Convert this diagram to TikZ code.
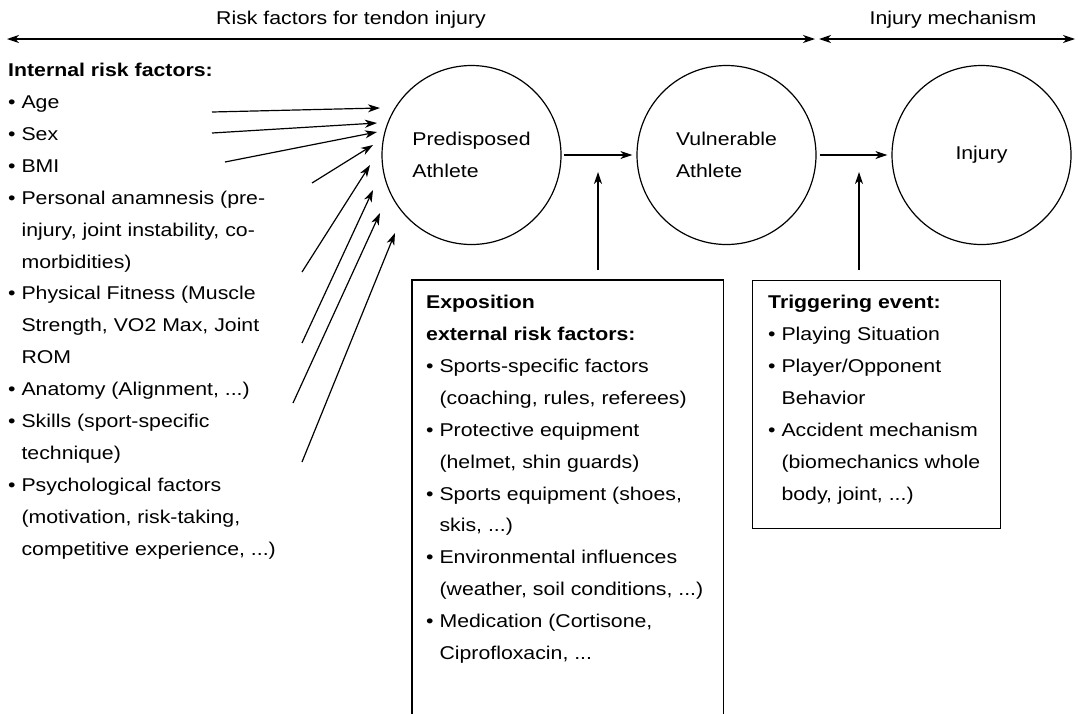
\documentclass[tikz,border=0pt]{standalone}
\usepackage{fontspec}
\setmainfont{Liberation Sans}[FakeStretch=1.15]
\usetikzlibrary{arrows.meta,positioning}

\newcommand{\bul}{\textbullet\ }
\newcommand{\ind}{\phantom{\textbullet\ }}

\tikzset{
  arr/.style={-{Stealth[length=12pt,width=8pt,inset=3.5pt]}, line width=1.2pt},
  span/.style={{Stealth[length=12pt,width=8pt,inset=3.5pt]}-{Stealth[length=12pt,width=8pt,inset=3.5pt]}, line width=1.2pt},
  athlete/.style={draw, circle, minimum size=179pt, inner sep=0pt, align=left, line width=1.2pt},
  frame/.style={line width=1.2pt},
  listtext/.style={anchor=base west, align=left, inner sep=0pt},
}

\begin{document}
\begin{tikzpicture}[x=1pt, y=-1pt, font=\fontsize{18.5}{31.9}\selectfont]
    \useasboundingbox (0,0) rectangle (1078,713);
    % time scale on top
    \coordinate (riskL) at (7,39);
    \coordinate (riskR) at (815,39);
    \coordinate (mechL) at (819,39);
    \coordinate (mechR) at (1075,39);
    \draw[span] (riskL) -- (riskR);
    \draw[span] (mechL) -- (mechR);
    \node[anchor=base, inner sep=0pt] (risk) at (351,24.6) {Risk factors for tendon injury};
    \node[anchor=base, inner sep=0pt] (mech) at (953,24.6) {Injury mechanism};

    % athletes
    \node[athlete] (pre) at (471.5,155) {Predisposed\\Athlete};
    \node[athlete] (vul) at (726.5,155) {Vulnerable\\Athlete};
    \node[athlete] (inj) at (981.5,155) {Injury};
    \draw[arr, shorten <=2pt, shorten >=4pt] (pre) -- (vul);
    \draw[arr, shorten <=3pt, shorten >=4pt] (vul) -- (inj);

    % internal factors (anchored at the baseline of the last line)
    \node[listtext] (internal) at (8,555.1) {\textbf{Internal risk factors:}\\
        \bul Age\\
        \bul Sex\\
        \bul BMI\\
        \bul Personal anamnesis (pre-\\
        \ind injury, joint instability, co-\\
        \ind morbidities)\\
        \bul Physical Fitness (Muscle\\
        \ind Strength, VO2 Max, Joint\\
        \ind ROM\\
        \bul Anatomy (Alignment, ...)\\
        \bul Skills (sport-specific\\
        \ind technique)\\
        \bul Psychological factors\\
        \ind (motivation, risk-taking,\\
        \ind competitive experience, ...)};
    \foreach \sx/\sy/\ex/\ey [count=\i] in {212/112/380/108, 212/133/377/123,
        225/162/377/132, 312/183/373/145, 302/272/370/165, 302/343/373/190,
        293/403/380/213, 302/462/395/233} {
        \coordinate (from\i) at (\sx,\sy);
        \coordinate (to\i) at (\ex,\ey);
        \draw[arr] (from\i) -- (to\i);
    }

    % exposition box (open at the bottom)
    \node[inner sep=0pt, minimum width=311pt, minimum height=440pt, anchor=north west] (expo) at (412,280) {};
    \draw[frame] (expo.south west) -- (expo.north west) -- (expo.north east) -- (expo.south east);
    \node[listtext] (expotext) at (426,659.5) {\textbf{Exposition}\\
        \textbf{external risk factors:}\\
        \bul Sports-specific factors\\
        \ind (coaching, rules, referees)\\
        \bul Protective equipment\\
        \ind (helmet, shin guards)\\
        \bul Sports equipment (shoes,\\
        \ind skis, ...)\\
        \bul Environmental influences\\
        \ind (weather, soil conditions, ...)\\
        \bul Medication (Cortisone,\\
        \ind Ciprofloxacin, ...};
    \coordinate (expoUp) at (598,270);
    \coordinate (expoTip) at (598,172);
    \draw[arr] (expoUp) -- (expoTip);

    % triggering event box
    \node[draw, frame, inner sep=0pt, minimum width=248pt, minimum height=248pt, anchor=north west] (trig) at (752,280) {};
    \node[listtext] (trigtext) at (768,500.0) {\textbf{Triggering event:}\\
        \bul Playing Situation\\
        \bul Player/Opponent\\
        \ind Behavior\\
        \bul Accident mechanism\\
        \ind (biomechanics whole\\
        \ind body, joint, ...)};
    \coordinate (trigUp) at (859,270);
    \coordinate (trigTip) at (859,172);
    \draw[arr] (trigUp) -- (trigTip);
\end{tikzpicture}
\end{document}
